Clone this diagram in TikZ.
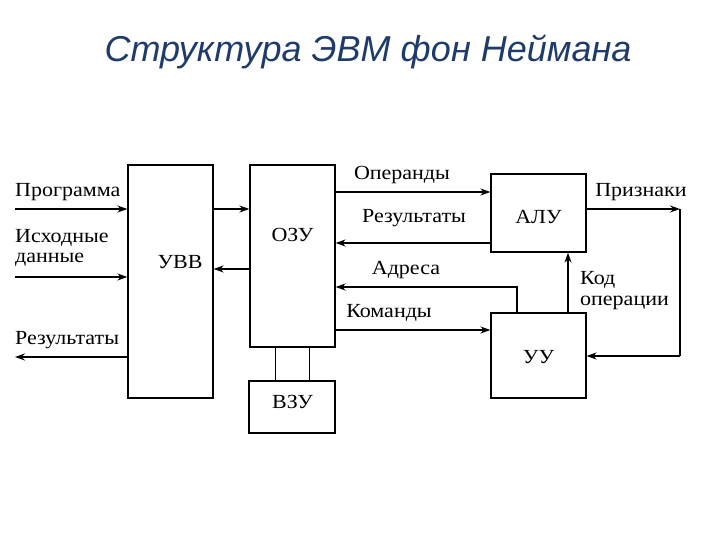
\documentclass[tikz,border=0pt]{standalone}
\usepackage{fontspec}
\setmainfont{Liberation Serif}[FakeStretch=1.1]
\newfontfamily\titlefont{Liberation Sans}
\usetikzlibrary{arrows.meta}
\definecolor{titleblue}{HTML}{1F3B6C}
\begin{document}
\begin{tikzpicture}[x=1pt,y=-1pt,
  box/.style={draw,line width=1.2pt,inner sep=0pt},
  lbl/.style={inner sep=0pt,font=\fontsize{20}{22}\selectfont},
  llbl/.style={lbl,anchor=west},
  arr/.style={line width=1.6pt,-{Stealth[length=10pt,width=7pt]}},
  ln/.style={line width=1.6pt}]
\useasboundingbox (0,0) rectangle (720,540);
\node[inner sep=0pt,font=\titlefont\itshape\fontsize{36}{40}\selectfont,text=titleblue] (title) at (368,52) {Структура ЭВМ фон Неймана};
% boxes
\node[box,minimum width=85pt,minimum height=233pt] (uvv) at (170.5,281.5) {};
\node[box,minimum width=85pt,minimum height=182pt] (ozu) at (292.5,256) {};
\node[box,minimum width=86pt,minimum height=52pt] (vzu) at (292,407) {};
\node[box,minimum width=95pt,minimum height=78pt] (alu) at (538.5,213) {};
\node[box,minimum width=95pt,minimum height=85pt] (uu) at (538.5,355.5) {};
\node[lbl] (tuvv) at (180,262) {УВВ};
\node[lbl] (tozu) at (292.5,235) {ОЗУ};
\node[lbl] (tvzu) at (292.5,402) {ВЗУ};
\node[lbl] (talu) at (538.5,217) {АЛУ};
\node[lbl] (tuu) at (538.5,357) {УУ};
% left side
\coordinate (pprog) at (15,209);
\coordinate (pdata) at (15,277);
\coordinate (pres) at (15,357);
\draw[arr] (pprog) -- (pprog -| uvv.west);
\draw[arr] (pdata) -- (pdata -| uvv.west);
\draw[arr] (pres -| uvv.west) -- (pres);
\node[llbl] (lprog) at (15,192) {Программа};
\node[llbl] (ldata1) at (15,238) {Исходные};
\node[llbl] (ldata2) at (15,260) {данные};
\node[llbl] (lres) at (15,340) {Результаты};
% UVV <-> OZU
\coordinate (a1) at (213,209);
\coordinate (a2) at (213,269);
\draw[arr] (a1 -| uvv.east) -- (a1 -| ozu.west);
\draw[arr] (a2 -| ozu.west) -- (a2 -| uvv.east);
% OZU <-> VZU
\draw[line width=1pt] (ozu.south -| 275,0) -- (vzu.north -| 275,0);
\draw[line width=1pt] (ozu.south -| 309,0) -- (vzu.north -| 309,0);
% OZU <-> ALU / UU
\coordinate (b1) at (0,192);
\coordinate (b2) at (0,243);
\coordinate (b3) at (517,287);
\coordinate (b4) at (0,330);
\draw[arr] (b1 -| ozu.east) -- (b1 -| alu.west);
\draw[arr] (b2 -| alu.west) -- (b2 -| ozu.east);
\draw[arr] (uu.north -| b3) -- (b3) -- (b3 -| ozu.east);
\draw[arr] (b4 -| ozu.east) -- (b4 -| uu.west);
\node[lbl] (lop) at (402,175) {Операнды};
\node[lbl] (lres2) at (414,218) {Результаты};
\node[lbl] (ladr) at (406,270) {Адреса};
\node[lbl] (lcmd) at (389,313) {Команды};
% ALU <-> UU
\coordinate (c1) at (680,209);
\coordinate (c2) at (680,356);
\coordinate (c3) at (568,0);
\draw[arr] (c1 -| alu.east) -- (c1);
\draw[ln] (c1) -- (c2);
\draw[arr] (c2) -- (c2 -| uu.east);
\draw[arr] (uu.north -| c3) -- (alu.south -| c3);
\node[lbl] (lpriz) at (641,192) {Признаки};
\node[llbl] (lkod1) at (580,280) {Код};
\node[llbl] (lkod2) at (580,303) {операции};
\end{tikzpicture}
\end{document}
